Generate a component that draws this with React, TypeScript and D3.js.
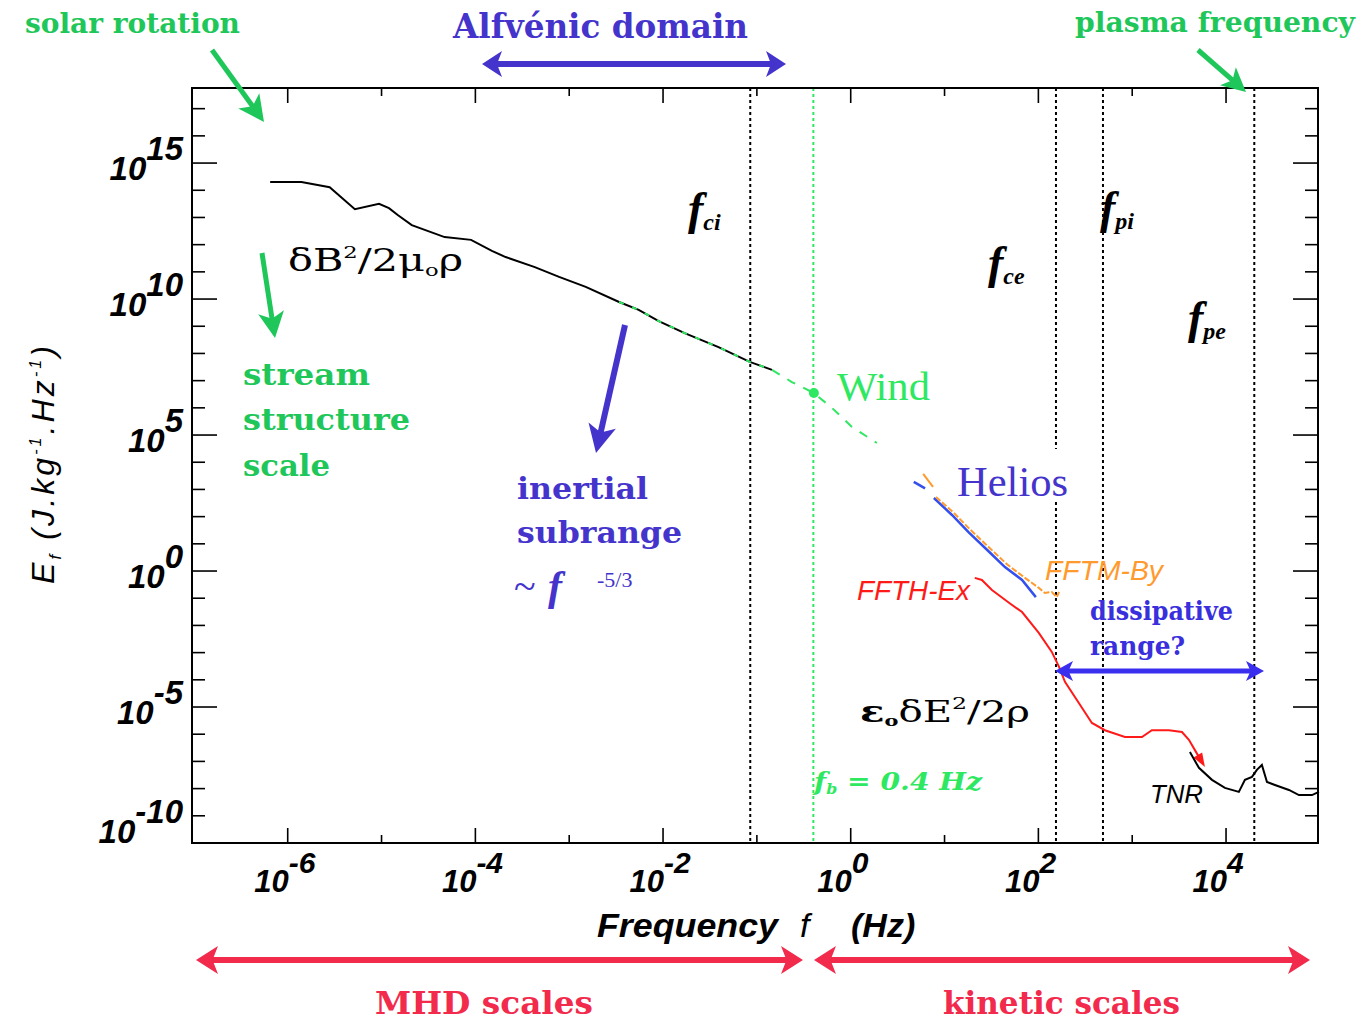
import React from 'react';
import * as d3 from 'd3';

const width = 1359;
const height = 1024;
const plot = { left: 192, right: 1318, top: 88, bottom: 843 };

// spectra: [frequency Hz, energy J/kg/Hz]
const mhdSpectrum: [number, number][] = [
  [6.5e-7, 2.0e14], [1.4e-6, 2.0e14], [2.8e-6, 1.3e14], [5.2e-6, 2.0e13],
  [9.4e-6, 3.2e13], [1.2e-5, 2.2e13], [1.5e-5, 1.2e13], [2.1e-5, 5.2e12],
  [4.7e-5, 1.9e12], [9e-5, 1.5e12], [1.5e-4, 5.9e11], [2.1e-4, 3.5e11],
  [4.3e-4, 1.5e11], [7.8e-4, 6.5e10], [1.5e-3, 2.8e10], [3.4e-3, 7.8e9],
  [5.5e-3, 4.0e9], [9e-3, 1.55e9], [0.017, 5.6e8], [0.039, 1.7e8],
  [0.084, 4.9e7], [0.145, 2.5e7],
];
const windTail: [number, number][] = [
  [0.145, 2.5e7], [0.236, 8.9e6], [0.405, 3.5e6], [0.63, 1.0e6], [1.03, 2.0e5], [1.9, 5.1e4],
];
const windPoint: [number, number] = [0.405, 3.5e6];
const heliosShort: [number, number][] = [[4.7, 1.9e3], [6.2, 1.1e3]];
const helios: [number, number][] = [
  [7.7, 485], [12, 115], [18, 27], [30, 5], [44, 1.4], [67, 0.47], [94, 0.11],
];
const fftmShort: [number, number][] = [[5.5, 2.9e3], [7.0, 960]];
const fftmBy: [number, number][] = [
  [8.1, 530], [12.6, 136], [19, 32], [31, 6.5], [46, 1.8], [70, 0.6],
  [101, 0.24], [117, 0.156], [139, 0.17], [157, 0.11], [166, 0.17],
];
const ffthEx: [number, number][] = [
  [21, 0.56], [25, 0.47], [32, 0.2], [49, 0.067], [67, 0.031], [101, 5.3e-3],
  [139, 1.06e-3], [166, 3e-4], [192, 8.4e-5], [270, 1.4e-5], [372, 2.6e-6],
  [512, 1.4e-6], [836, 7.9e-7], [1270, 7.9e-7], [1620, 1.4e-6], [2460, 1.4e-6],
  [3390, 1.2e-6], [4020, 6.2e-7], [4660, 2.6e-7], [5530, 9.6e-8],
];
const tnr: [number, number][] = [
  [4120, 2.2e-7], [5140, 5.8e-8], [7080, 2.1e-8], [9730, 1.06e-8], [13700, 7.6e-9],
  [15900, 2.1e-8], [18900, 2.7e-8], [21300, 4.9e-8], [24100, 7.4e-8], [27300, 1.76e-8],
  [33200, 1.36e-8], [46800, 8.9e-9], [59800, 5.8e-9], [82300, 5.8e-9], [97700, 7.6e-9],
];

// characteristic frequencies (Hz)
const fCi = 0.085;
const fB = 0.4;
const fCe = 154;
const fPi = 488;
const fPe = 2.0e4;

const xTickExps = d3.range(-6, 5);
const xLabelExps = [-6, -4, -2, 0, 2, 4];
const yTickExps = d3.range(-10, 18);
const yLabelExps = [-10, -5, 0, 5, 10, 15];

const GREEN = '#1fc75a';
const WIND = '#2fe862';
const BLUE = '#4434cc';
const RED = '#f22a4c';

const sansBI: React.CSSProperties = {
  fontFamily: "'Liberation Sans', Arial, sans-serif",
  fontStyle: 'italic',
  fontWeight: 'bold',
};
const heavy = "'DejaVu Serif', serif";
const serif = "'Liberation Serif', 'Times New Roman', serif";

function Arrow({ x1, y1, x2, y2, color, w = 5, head = 22, headW = 24, both = false }: any) {
  const dx = x2 - x1, dy = y2 - y1;
  const L = Math.hypot(dx, dy);
  const ux = dx / L, uy = dy / L;
  const px = -uy, py = ux;
  const tri = (tx: number, ty: number, s: number) => {
    const bx = tx - s * ux * head, by = ty - s * uy * head;
    const nx = tx - s * ux * head * 0.75, ny = ty - s * uy * head * 0.75;
    return `${tx},${ty} ${bx + px * headW / 2},${by + py * headW / 2} ${nx},${ny} ${bx - px * headW / 2},${by - py * headW / 2}`;
  };
  const sx = both ? x1 + ux * head * 0.7 : x1;
  const sy = both ? y1 + uy * head * 0.7 : y1;
  return (
    <g>
      <line x1={sx} y1={sy} x2={x2 - ux * head * 0.7} y2={y2 - uy * head * 0.7} stroke={color} strokeWidth={w} />
      <polygon points={tri(x2, y2, 1)} fill={color} />
      {both && <polygon points={tri(x1, y1, -1)} fill={color} />}
    </g>
  );
}

export default function App() {
  const x = d3.scaleLog().domain([Math.pow(10, -7.02), Math.pow(10, 4.98)]).range([plot.left, plot.right]);
  const y = d3.scaleLog().domain([1e-10, Math.pow(10, 17.76)]).range([plot.bottom, plot.top]);
  const line = d3.line<[number, number]>().x(d => x(d[0])).y(d => y(d[1]));
  const windOverlay = mhdSpectrum.filter(d => d[0] >= 3e-3);

  // red curve end head
  const n = ffthEx.length;
  const ex = x(ffthEx[n - 1][0]), ey = y(ffthEx[n - 1][1]);
  const px0 = x(ffthEx[n - 2][0]), py0 = y(ffthEx[n - 2][1]);
  const ang = Math.atan2(ey - py0, ex - px0);
  const c = Math.cos(ang), s = Math.sin(ang);
  const redHead = `${ex + c * 6},${ey + s * 6} ${ex - c * 8 - s * 5},${ey - s * 8 + c * 5} ${ex - c * 8 + s * 5},${ey - s * 8 - c * 5}`;

  const vlines = [
    { f: fCi, color: '#000' },
    { f: fB, color: WIND },
    { f: fCe, color: '#000' },
    { f: fPi, color: '#000' },
    { f: fPe, color: '#000' },
  ];

  return (
    <svg width={width} height={height} style={{ position: 'absolute', left: 0, top: 0, background: '#fff' }}>
      <rect width={width} height={height} fill="#fff" />

      {/* dotted reference frequencies */}
      {vlines.map((v, i) => (
        <line key={i} x1={x(v.f)} x2={x(v.f)} y1={plot.top} y2={plot.bottom}
          stroke={v.color} strokeWidth={2} strokeDasharray="3,3" />
      ))}
      <rect x={950} y={449} width={122} height={53} fill="#fff" />

      {/* frame */}
      <rect x={plot.left} y={plot.top} width={plot.right - plot.left} height={plot.bottom - plot.top}
        fill="none" stroke="#000" strokeWidth={2} />

      {/* y ticks */}
      {yTickExps.map(e => {
        const len = e % 5 === 0 ? 25 : 13;
        const yy = y(Math.pow(10, e));
        return (
          <g key={'y' + e}>
            <line x1={plot.left} x2={plot.left + len} y1={yy} y2={yy} stroke="#000" strokeWidth={1.6} />
            <line x1={plot.right} x2={plot.right - len} y1={yy} y2={yy} stroke="#000" strokeWidth={1.6} />
          </g>
        );
      })}
      {/* x ticks */}
      {xTickExps.map(e => {
        const len = e % 2 === 0 ? 15 : 8;
        const xx = x(Math.pow(10, e));
        return (
          <g key={'x' + e}>
            <line x1={xx} x2={xx} y1={plot.bottom} y2={plot.bottom - len} stroke="#000" strokeWidth={1.6} />
            <line x1={xx} x2={xx} y1={plot.top} y2={plot.top + len} stroke="#000" strokeWidth={1.6} />
          </g>
        );
      })}

      {/* y tick labels */}
      {yLabelExps.map(e => {
        const yy = y(Math.pow(10, e)) + (e === -10 ? 0 : 17);
        return (
          <text key={'yl' + e} x={183} y={yy} textAnchor="end" fontSize={33} style={sansBI}>
            10<tspan dy={-20}>{e}</tspan>
          </text>
        );
      })}
      {/* x tick labels */}
      {xLabelExps.map(e => {
        const xx = x(Math.pow(10, e));
        return (
          <g key={'xl' + e}>
            <text x={xx + 1} y={892} textAnchor="end" fontSize={31} style={sansBI}>10</text>
            <text x={xx + 1} y={873} fontSize={30} style={sansBI}>{e}</text>
          </g>
        );
      })}

      {/* axis titles */}
      <text x={597} y={937} fontSize={34} style={sansBI} textLength={181} lengthAdjust="spacingAndGlyphs">Frequency</text>
      <text x={800} y={937} fontSize={34} fontFamily="'Liberation Sans', Arial, sans-serif" fontStyle="italic">f</text>
      <text x={851} y={937} fontSize={34} style={sansBI}>(Hz)</text>
      <g transform="translate(54,465) rotate(-90)">
        <text x={0} y={0} textAnchor="middle" fontSize={32} fontFamily="'Liberation Sans', Arial, sans-serif"
          fontStyle="italic" textLength={238} lengthAdjust="spacing">
          E<tspan fontSize={17} dy={7}>f</tspan>
          <tspan dy={-7}>  (J.kg</tspan>
          <tspan fontSize={16} dy={-13}>-1</tspan>
          <tspan dy={13}>.Hz</tspan>
          <tspan fontSize={16} dy={-13}>-1</tspan>
          <tspan dy={13}>)</tspan>
        </text>
      </g>

      {/* spectra */}
      <path d={line(mhdSpectrum) || ''} fill="none" stroke="#000" strokeWidth={2} />
      <path d={line(windOverlay) || ''} fill="none" stroke={WIND} strokeWidth={2} strokeDasharray="5,9" />
      <path d={line(windTail) || ''} fill="none" stroke={WIND} strokeWidth={2} strokeDasharray="9,9" />
      <circle cx={x(windPoint[0])} cy={y(windPoint[1])} r={5} fill={WIND} />
      <path d={line(heliosShort) || ''} fill="none" stroke="#3350ee" strokeWidth={2.5} />
      <path d={line(helios) || ''} fill="none" stroke="#3350ee" strokeWidth={2.5} />
      <path d={line(fftmShort) || ''} fill="none" stroke="#ff9a2e" strokeWidth={2} transform="translate(3,-3)" />
      <path d={line(fftmBy) || ''} fill="none" stroke="#ff9a2e" strokeWidth={2} strokeDasharray="6,2" />
      <path d={line(ffthEx) || ''} fill="none" stroke="#ff1a1a" strokeWidth={2} />
      <polygon points={redHead} fill="#ff1a1a" />
      <path d={line(tnr) || ''} fill="none" stroke="#000" strokeWidth={2} />

      {/* frequency labels */}
      <text x={688} y={224} fontSize={46} fontFamily={serif} fontStyle="italic" fontWeight="bold">
        f<tspan fontSize={24} dy={6}>ci</tspan>
      </text>
      <text x={988} y={278} fontSize={46} fontFamily={serif} fontStyle="italic" fontWeight="bold">
        f<tspan fontSize={24} dy={6}>ce</tspan>
      </text>
      <text x={1100} y={223} fontSize={46} fontFamily={serif} fontStyle="italic" fontWeight="bold">
        f<tspan fontSize={24} dy={6}>pi</tspan>
      </text>
      <text x={1188} y={333} fontSize={46} fontFamily={serif} fontStyle="italic" fontWeight="bold">
        f<tspan fontSize={24} dy={6}>pe</tspan>
      </text>

      {/* spectrum labels */}
      <text x={288} y={271} fontSize={31} fontFamily={heavy} textLength={175} lengthAdjust="spacingAndGlyphs">
        δB<tspan fontSize={17} dy={-13}>2</tspan><tspan dy={13}>/2μ</tspan>
        <tspan fontSize={17} dy={5}>o</tspan><tspan dy={-5}>ρ</tspan>
      </text>
      <text x={860} y={722} fontSize={29} fontFamily={heavy} textLength={170} lengthAdjust="spacingAndGlyphs">
        <tspan fontWeight="bold">ε</tspan><tspan fontSize={15} dy={4} fontWeight="bold">o</tspan>
        <tspan dy={-4}>δE</tspan><tspan fontSize={17} dy={-13}>2</tspan><tspan dy={13}>/2ρ</tspan>
      </text>
      <text x={837} y={400} fontSize={40} fontFamily={serif} fill={WIND} textLength={93} lengthAdjust="spacingAndGlyphs">Wind</text>
      <text x={957} y={496} fontSize={42} fontFamily={serif} fill={BLUE} textLength={111} lengthAdjust="spacingAndGlyphs">Helios</text>
      <text x={1045} y={580} fontSize={27} fontFamily="'Liberation Sans', Arial, sans-serif" fontStyle="italic"
        fill="#ff9a2e" textLength={118} lengthAdjust="spacingAndGlyphs">FFTM-By</text>
      <text x={857} y={600} fontSize={27} fontFamily="'Liberation Sans', Arial, sans-serif" fontStyle="italic"
        fill="#ff1a1a" textLength={113} lengthAdjust="spacingAndGlyphs">FFTH-Ex</text>
      <text x={1150} y={803} fontSize={25} fontFamily="'Liberation Sans', Arial, sans-serif" fontStyle="italic"
        fill="#000" textLength={53} lengthAdjust="spacingAndGlyphs">TNR</text>
      <text x={814} y={790} fontSize={25} fontFamily={heavy} fontStyle="italic" fontWeight="bold" fill={WIND}
        textLength={168} lengthAdjust="spacingAndGlyphs">
        f<tspan fontSize={14} dy={4}>b</tspan><tspan dy={-4}> = 0.4 Hz</tspan>
      </text>

      {/* annotations */}
      <text x={25} y={33} fontSize={27} fontFamily={heavy} fontWeight="bold" fill={GREEN} textLength={215} lengthAdjust="spacingAndGlyphs">solar rotation</text>
      <text x={453} y={38} fontSize={33} fontFamily={heavy} fontWeight="bold" fill={BLUE} textLength={295} lengthAdjust="spacingAndGlyphs">Alfvénic domain</text>
      <text x={1075} y={32} fontSize={27} fontFamily={heavy} fontWeight="bold" fill={GREEN} textLength={280} lengthAdjust="spacingAndGlyphs">plasma frequency</text>
      <text x={243} y={385} fontSize={30} fontFamily={heavy} fontWeight="bold" fill={GREEN} textLength={127} lengthAdjust="spacingAndGlyphs">stream</text>
      <text x={243} y={430} fontSize={30} fontFamily={heavy} fontWeight="bold" fill={GREEN} textLength={167} lengthAdjust="spacingAndGlyphs">structure</text>
      <text x={243} y={476} fontSize={30} fontFamily={heavy} fontWeight="bold" fill={GREEN} textLength={87} lengthAdjust="spacingAndGlyphs">scale</text>
      <text x={517} y={499} fontSize={30} fontFamily={heavy} fontWeight="bold" fill={BLUE} textLength={131} lengthAdjust="spacingAndGlyphs">inertial</text>
      <text x={517} y={543} fontSize={30} fontFamily={heavy} fontWeight="bold" fill={BLUE} textLength={165} lengthAdjust="spacingAndGlyphs">subrange</text>
      <text x={514} y={600} fontSize={40} fontFamily={serif} fill={BLUE}>~</text>
      <text x={548} y={600} fontSize={42} fontFamily={serif} fontStyle="italic" fontWeight="bold" fill={BLUE}>f</text>
      <text x={597} y={587} fontSize={22} fontFamily={serif} fill={BLUE}>-5/3</text>
      <text x={1090} y={620} fontSize={26} fontFamily={heavy} fontWeight="bold" fill="#3a2fdd" textLength={143} lengthAdjust="spacingAndGlyphs">dissipative</text>
      <text x={1090} y={655} fontSize={26} fontFamily={heavy} fontWeight="bold" fill="#3a2fdd" textLength={95} lengthAdjust="spacingAndGlyphs">range?</text>
      <text x={375} y={1014} fontSize={31} fontFamily={heavy} fontWeight="bold" fill={RED} textLength={218} lengthAdjust="spacingAndGlyphs">MHD scales</text>
      <text x={943} y={1014} fontSize={31} fontFamily={heavy} fontWeight="bold" fill={RED} textLength={237} lengthAdjust="spacingAndGlyphs">kinetic scales</text>

      <Arrow x1={212} y1={50} x2={264} y2={122} color={GREEN} w={5} head={26} headW={26} />
      <Arrow x1={262} y1={253} x2={275} y2={338} color={GREEN} w={5} head={26} headW={26} />
      <Arrow x1={1198} y1={50} x2={1246} y2={92} color={GREEN} w={5} head={24} headW={24} />
      <Arrow x1={625} y1={325} x2={596} y2={453} color={BLUE} w={6} head={28} headW={28} />
      <Arrow x1={482} y1={64} x2={786} y2={64} color={BLUE} w={6} head={20} headW={26} both />
      <Arrow x1={1055} y1={671} x2={1264} y2={671} color="#3a2fee" w={5} head={18} headW={20} both />
      <Arrow x1={196} y1={960} x2={803} y2={960} color={RED} w={6} head={22} headW={28} both />
      <Arrow x1={814} y1={960} x2={1310} y2={960} color={RED} w={6} head={22} headW={28} both />
    </svg>
  );
}
